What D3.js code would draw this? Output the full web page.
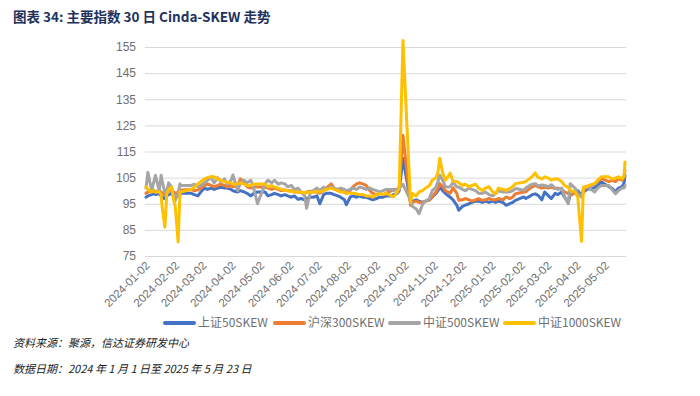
<!DOCTYPE html>
<html>
<head>
<meta charset="utf-8">
<script src="https://cdn.jsdelivr.net/npm/d3@7"></script>
<style>
  body { margin: 0; background: #fff; }
  svg { display: block; }
  .axis text { fill: #6f6f6f; }
</style>
</head>
<body>
<div class="chart"></div>
<script>
// series names and colours, in legend order
const SERIES = ["上证50SKEW", "沪深300SKEW", "中证500SKEW", "中证1000SKEW"];
const COLORS = ["#4472C4", "#ED7D31", "#A5A5A5", "#FFC000"];

// sample dates (roughly twice a week)
const DATES = [
  "2024-01-02","2024-01-04","2024-01-08","2024-01-10","2024-01-12","2024-01-16","2024-01-18","2024-01-19",
  "2024-01-22","2024-01-24","2024-01-26","2024-01-29","2024-01-31","2024-02-02","2024-02-05","2024-02-07",
  "2024-02-08","2024-02-19","2024-02-22","2024-02-26","2024-02-29","2024-03-04","2024-03-07","2024-03-11",
  "2024-03-14","2024-03-18","2024-03-21","2024-03-25","2024-03-28","2024-04-01","2024-04-03","2024-04-08",
  "2024-04-11","2024-04-15","2024-04-18","2024-04-22","2024-04-25","2024-04-29","2024-05-07","2024-05-10",
  "2024-05-14","2024-05-17","2024-05-21","2024-05-24","2024-05-28","2024-05-31","2024-06-04","2024-06-07",
  "2024-06-11","2024-06-14","2024-06-18","2024-06-20","2024-06-24","2024-06-27","2024-07-01","2024-07-04",
  "2024-07-08","2024-07-11","2024-07-16","2024-07-19","2024-07-23","2024-07-26","2024-07-30","2024-08-01",
  "2024-08-05","2024-08-08","2024-08-12","2024-08-15","2024-08-19","2024-08-22","2024-08-26","2024-08-29",
  "2024-09-02","2024-09-05","2024-09-09","2024-09-12","2024-09-18","2024-09-20","2024-09-24","2024-09-26",
  "2024-09-30","2024-10-08","2024-10-10","2024-10-14","2024-10-17","2024-10-21","2024-10-24","2024-10-28",
  "2024-10-31","2024-11-04","2024-11-06","2024-11-08","2024-11-11","2024-11-14","2024-11-19","2024-11-22",
  "2024-11-26","2024-11-28","2024-12-02","2024-12-05","2024-12-09","2024-12-12","2024-12-16","2024-12-19",
  "2024-12-23","2024-12-26","2024-12-30","2025-01-03","2025-01-06","2025-01-09","2025-01-14","2025-01-17",
  "2025-01-21","2025-01-24","2025-01-27","2025-02-05","2025-02-07","2025-02-11","2025-02-14","2025-02-17",
  "2025-02-20","2025-02-24","2025-02-27","2025-03-03","2025-03-06","2025-03-10","2025-03-13","2025-03-17",
  "2025-03-20","2025-03-24","2025-03-26","2025-03-31","2025-04-03","2025-04-07","2025-04-09","2025-04-14",
  "2025-04-17","2025-04-21","2025-04-24","2025-04-28","2025-05-06","2025-05-09","2025-05-13","2025-05-16",
  "2025-05-20","2025-05-22","2025-05-23"
];

const SZ50 = [
  97.5,98,98.5,99,98.5,99,98,97.5, 97,98,98.5,99,98,97.5,98,98.5,
  99,99,98.5,98,99.5,101,100.5,101, 100.5,101,101.3,101,101,100.5,100,99.5,
  100,99.5,99,98,99,99.5,99.5,98, 98.5,99,98.5,98,98.5,98,97.5,98,
  96.7,97,96.5,97,97.5,97.5,98,95, 98.5,99,99,98.5,98,97.5,96.5,94.6,
  97.5,98,97.5,98,97.5,97.5,97,96.5, 97,97.5,97.5,98,98,98.5,99,100,
  112.3,95.7,96,96.5,96,95.5,96,96.5, 97.5,99,100,101.4,100,98.9,97.5,96.5,
  94.4,92.5,94,94.5,95,95.5,96,96, 95.5,96,95.5,96,95.5,96,95.5,94.4,
  95,95.5,96.3,97.6,97,97.8,98.5,98.8, 98.2,96.5,99.5,98,97,99,98.5,99.5,
  97.5,95.6,98.5,99,100,98,99.5,100.8, 100.5,101.3,102,103.3,101.5,101,99.5,101,
  101.5,103,105.9
];
const HS300 = [
  99,99.5,100,100.3,99.5,100,99.5,99, 98.5,99.5,100,100.3,99.5,99,99.5,100,
  100.3,100.5,100,100.3,101,102,102.6,102, 101.5,102,102.5,102,101.5,102,101.5,102,
  104.5,103,101.5,101,101.5,101.4,101.4,101, 100.5,101,100.5,100,100.3,100,100,99.5,
  99.5,99.5,99,99.5,99.8,99.5,99.5,99, 100,101,102.6,101,100,100,99.5,99,
  100,101.5,102.6,103,102.5,102,100,99, 98.5,99,98.5,99,100,100.5,100.5,101,
  121.2,94.4,95.5,96,95.5,95.5,96,96.5, 97.5,99.5,101,102.7,101.5,100,99,101.1,
  99,96.3,96.5,97,96.5,96,96.5,97, 96.3,96.5,97,96.5,96.5,97,96.5,97.6,
  97,97.5,98.8,99.5,99.5,100.8,101.5,102, 101.5,101,101.3,101,101.3,100.8,101,100.5,
  99.5,99,98.2,99.2,98.5,98,100,101.5, 102,102.7,103.5,104.6,103.5,104,103.5,104.5,
  104,105.5,107.8
];
const ZZ500 = [
  101,107,100,103,105.9,100,105.9,104, 99,100,103,101.5,98,96.3,99,102.6,
  102,102,102.5,101.5,102,103,104,105, 103,105,103.5,104.5,102.5,104,106,100,
  103,104,103,104,101,95,102.5,104, 103,104,102.5,103,102.6,101.5,102,100.5,
  101,99.5,98,93.3,99.5,100,101,100, 101.4,100.5,101.5,101,100.5,101,100.5,100,
  100.5,101,100.5,101.4,101,100.5,101,100.5, 100,99.5,100,100.5,100.5,100,100.5,101,
  102.4,96.3,94,93,91.2,95,96,97, 100,101.4,103.5,105.9,104,101.4,101.5,103.2,
  101.4,101.4,100.5,100,101,100.5,100,99, 98.9,99.5,98.5,98,99,100,99.5,99.5,
  99.5,100,100.8,100.2,101,102,102.5,102.7, 101.8,102.2,102,101.5,102.3,101,100.5,101,
  97.6,95,102.7,101,99,97.5,101,101.4, 100.5,99.5,101,102,102,100.5,98.8,100,
  101,101,102
];
const ZZ1000 = [
  101.5,100.5,99.5,100,99.5,99.5,98.5,94, 86,98.8,100.5,101.4,97,94,80.4,99.5,
  99.5,100.5,101.4,102.6,103.5,104.5,105,105.4, 105.3,104.5,104,103.5,103.2,103,102.5,102.6,
  103,102.5,102,102,102.5,102.6,102.6,101.5, 102,101.4,101,100.5,100.3,100,99.8,99.5,
  99.5,99.5,99,99.5,99.3,99.5,99.8,99.5, 100,100.5,101,100.5,100,99.5,99.5,99,
  99,99,98.8,98.5,98.5,98,98,97.5, 98.5,99,98.5,99,98,97.6,99.5,101,
  157.5,95.5,98.9,98,99.5,100.1,101,102, 104,105,107,112.4,106.7,104,106.7,103.6,
  103.5,103,102,102.5,101.5,102,102.5,101, 100,101,101.5,99.5,98.8,101,100.5,100.1,
  100.8,101.5,102.7,103.2,103.5,104.6,105.5,106.8, 105,104.5,105.3,104.8,104,104.6,104.5,103.5,
  102,101.3,100.1,99.5,97.6,80.6,101.4,101.8, 102.3,102.7,104,105.3,105.3,104.5,104.8,105.3,
  104.5,105.5,111
];

// y tick labels
const Y_TICKS = [75, 85, 95, 105, 115, 125, 135, 145, 155];
// x tick labels: the 2nd of each month
const X_TICKS = d3.utcMonth.range(new Date("2024-01-01"), new Date("2025-05-03"))
  .map(d => new Date(Date.UTC(d.getUTCFullYear(), d.getUTCMonth(), 2)));

const WIDTH = 700, HEIGHT = 396;
const PLOT = { left: 146, right: 625, top: 47, bottom: 256 };
const FONT = "'Liberation Sans', 'Noto Sans CJK SC', sans-serif";

const parseDate = d3.utcParse("%Y-%m-%d");
const dates = DATES.map(parseDate);
const allSeries = [SZ50, HS300, ZZ500, ZZ1000];

const xScale = d3.scaleUtc()
  .domain([dates[0], dates[dates.length - 1]])
  .range([PLOT.left, PLOT.right]);
const yScale = d3.scaleLinear()
  .domain([75, 155])
  .range([PLOT.bottom, PLOT.top]);

const svg = d3.select(".chart")
  .append("svg")
  .attr("width", WIDTH)
  .attr("height", HEIGHT)
  .style("font-family", FONT);

// title
svg.append("text")
  .attr("x", 13)
  .attr("y", 22)
  .attr("font-size", 13.5)
  .attr("font-weight", "bold")
  .attr("fill", "#22315a")
  .attr("font-family", "'Noto Sans CJK SC', 'Liberation Sans', sans-serif")
  .text("图表 34:  主要指数 30 日 Cinda-SKEW 走势");

// gridlines + y axis labels
const yAxis = svg.append("g")
  .attr("class", "axis y-axis")
  .attr("transform", `translate(${PLOT.left - 1}, 0)`)
  .call(d3.axisLeft(yScale).tickValues(Y_TICKS).tickSize(-(PLOT.right - PLOT.left + 2)).tickPadding(9));
yAxis.select(".domain").remove();
yAxis.selectAll(".tick line").attr("stroke", "#d9d9d9").attr("stroke-width", 1);
yAxis.selectAll(".tick text").attr("font-size", 12).attr("font-family", FONT);

// x axis labels, rotated
const xAxis = svg.append("g")
  .attr("class", "axis x-axis")
  .attr("transform", `translate(0, ${PLOT.bottom})`)
  .call(d3.axisBottom(xScale).tickValues(X_TICKS).tickFormat(d3.utcFormat("%Y-%m-%d")).tickSize(0));
xAxis.select(".domain").remove();
xAxis.selectAll(".tick text")
  .attr("font-size", 11.5)
  .attr("font-family", FONT)
  .attr("text-anchor", "end")
  .attr("dy", 0)
  .attr("transform", "translate(2, 8) rotate(-45)");

// lines
const line = d3.line()
  .x((d, i) => xScale(dates[i]))
  .y(d => yScale(d));

svg.append("g")
  .attr("class", "lines")
  .selectAll("path")
  .data(allSeries)
  .join("path")
  .attr("d", d => line(d))
  .attr("fill", "none")
  .attr("stroke", (d, i) => COLORS[i])
  .attr("stroke-width", 3)
  .attr("stroke-linejoin", "round")
  .attr("stroke-linecap", "round");

// legend
const LEGEND_X = [165, 275, 390, 505];
const legend = svg.append("g")
  .attr("class", "legend")
  .selectAll("g")
  .data(SERIES)
  .join("g")
  .attr("transform", (d, i) => `translate(${LEGEND_X[i]}, 323)`);
legend.append("line")
  .attr("x1", 0).attr("x2", 29)
  .attr("stroke", (d, i) => COLORS[i])
  .attr("stroke-width", 4)
  .attr("stroke-linecap", "round");
legend.append("text")
  .attr("x", 33)
  .attr("dy", "0.35em")
  .attr("font-size", 12)
  .attr("fill", "#6f6f6f")
  .attr("font-family", "'Noto Sans CJK SC', sans-serif")
  .text(d => d);

// footer
const footer = svg.append("g")
  .attr("font-size", 11)
  .attr("font-style", "italic")
  .attr("fill", "#222")
  .attr("font-family", "'Noto Sans CJK SC', sans-serif");
footer.append("text").attr("x", 13).attr("y", 347).text("资料来源：聚源，信达证券研发中心");
footer.append("text").attr("x", 13).attr("y", 373).text("数据日期：2024 年 1 月 1 日至 2025 年 5 月 23 日");
</script>
</body>
</html>
